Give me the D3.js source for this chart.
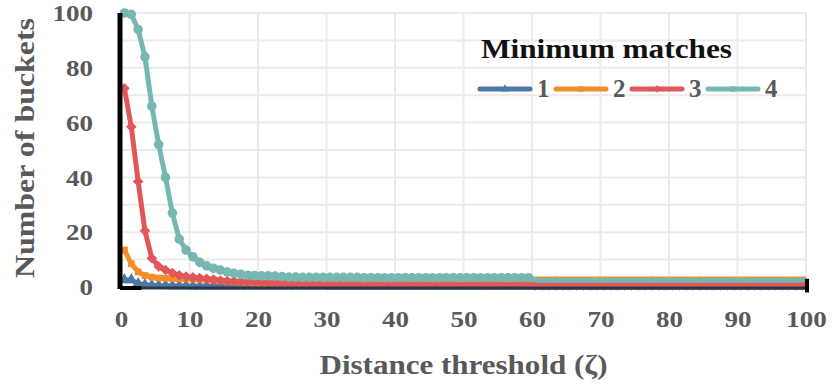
<!DOCTYPE html>
<meta charset="utf-8">
<style>
  body { margin: 0; background: #fff; }
  text { font-family: "Liberation Serif", "Times New Roman", serif; font-weight: bold; }
</style>
<svg width="832" height="389"></svg>
<script src="https://cdn.jsdelivr.net/npm/d3@7/dist/d3.min.js"></script>
<script>

// distance thresholds that carry a value (category axis, 1..100)
var thresholds = d3.range(1, 101);
var xTicks = [0, 10, 20, 30, 40, 50, 60, 70, 80, 90, 100];
var yTicks = [0, 20, 40, 60, 80, 100];
var gridX = [10, 20, 30, 40, 50, 60, 70, 80, 90, 100];
var gridY = [10, 20, 30, 40, 50, 60, 70, 80, 90, 100];
var seriesNames = ["1", "2", "3", "4"];

// number of buckets, minimum matches = 1
var match1 = [2.6, 2.6, 1.2, 0.8, 0.6, 0.5, 0.5, 0.4, 0.4, 0.4,
  0.3, 0.3, 0.3, 0.3, 0.3, 0.3, 0.3, 0.3, 0.3, 0.3,
  0.3, 0.3, 0.3, 0.3, 0.3, 0.3, 0.3, 0.3, 0.3, 0.3,
  0.2, 0.2, 0.2, 0.2, 0.2, 0.2, 0.2, 0.2, 0.2, 0.2,
  0.2, 0.2, 0.2, 0.2, 0.2, 0.2, 0.2, 0.2, 0.2, 0.2,
  0.2, 0.2, 0.2, 0.2, 0.2, 0.2, 0.2, 0.2, 0.2, 0.2,
  0.2, 0.2, 0.2, 0.2, 0.2, 0.2, 0.2, 0.2, 0.2, 0.2,
  0.2, 0.2, 0.2, 0.2, 0.2, 0.2, 0.2, 0.2, 0.2, 0.2,
  0.2, 0.2, 0.2, 0.2, 0.2, 0.2, 0.2, 0.2, 0.2, 0.2,
  0.2, 0.2, 0.2, 0.2, 0.2, 0.2, 0.2, 0.2, 0.2, 0.2];

// minimum matches = 2
var match2 = [13.5, 8.5, 5.5, 4.2, 3.6, 3.3, 3.2, 3.1, 3.0, 3.0,
  2.9, 2.8, 2.7, 2.5, 2.3, 2.1, 1.9, 1.8, 1.6, 1.5,
  1.4, 1.4, 1.3, 1.3, 1.3, 1.2, 1.2, 1.2, 1.2, 1.2,
  1.1, 1.1, 1.1, 1.1, 1.1, 1.1, 1.1, 1.1, 1.1, 1.1,
  1.1, 1.1, 1.1, 1.1, 1.1, 1.1, 1.1, 1.1, 1.1, 1.1,
  1.1, 1.1, 1.1, 1.1, 1.1, 1.1, 1.1, 1.1, 1.1, 1.1,
  2.6, 2.6, 2.6, 2.6, 2.6, 2.6, 2.6, 2.6, 2.6, 2.6,
  2.6, 2.6, 2.6, 2.6, 2.6, 2.6, 2.6, 2.6, 2.6, 2.6,
  2.6, 2.6, 2.6, 2.6, 2.6, 2.6, 2.6, 2.6, 2.6, 2.6,
  2.6, 2.6, 2.6, 2.6, 2.6, 2.6, 2.6, 2.6, 2.6, 2.6];

// minimum matches = 3
var match3 = [72.5, 58.5, 38.5, 20.5, 10.5, 7.5, 6.2, 5.1, 4.3, 3.8,
  3.5, 3.3, 3.0, 2.7, 2.4, 2.2, 2.0, 1.9, 1.8, 1.7,
  1.6, 1.5, 1.5, 1.4, 1.4, 1.3, 1.3, 1.2, 1.2, 1.1,
  1.1, 1.1, 1.0, 1.0, 1.0, 1.0, 0.9, 0.9, 0.9, 0.9,
  0.9, 0.8, 0.8, 0.8, 0.8, 0.8, 0.8, 0.8, 0.7, 0.7,
  0.7, 0.7, 0.7, 0.7, 0.7, 0.7, 0.7, 0.7, 0.7, 0.7,
  0.6, 0.6, 0.6, 0.6, 0.6, 0.6, 0.6, 0.6, 0.6, 0.6,
  0.6, 0.6, 0.6, 0.6, 0.6, 0.6, 0.6, 0.6, 0.6, 0.6,
  0.6, 0.6, 0.6, 0.6, 0.6, 0.6, 0.6, 0.6, 0.6, 0.6,
  0.6, 0.6, 0.6, 0.6, 0.6, 0.6, 0.6, 0.6, 0.6, 0.6];

// minimum matches = 4
var match4 = [100, 99.5, 94, 84, 66, 52, 40, 27, 17.5, 13.5,
  11, 9, 7.7, 6.8, 6.2, 5.5, 5.0, 4.6, 4.3, 4.2,
  4.1, 4.1, 4.0, 3.8, 3.6, 3.6, 3.5, 3.5, 3.5, 3.5,
  3.5, 3.5, 3.5, 3.5, 3.5, 3.4, 3.4, 3.4, 3.4, 3.4,
  3.4, 3.4, 3.4, 3.4, 3.4, 3.4, 3.4, 3.4, 3.4, 3.4,
  3.4, 3.4, 3.4, 3.4, 3.4, 3.4, 3.4, 3.4, 3.4, 3.4,
  2.5, 2.5, 2.5, 2.5, 2.5, 2.5, 2.5, 2.5, 2.5, 2.5,
  2.5, 2.5, 2.5, 2.5, 2.5, 2.5, 2.5, 2.5, 2.5, 2.5,
  2.5, 2.5, 2.5, 2.5, 2.5, 2.5, 2.5, 2.5, 2.5, 2.5,
  2.5, 2.5, 2.5, 2.5, 2.5, 2.5, 2.5, 2.5, 2.5, 2.5];

var svg = d3.select("svg");

var x = d3.scaleLinear().domain([0, 100]).range([121, 806]);
var xBand = d3.scaleBand().domain(thresholds).range([121, 806]);
var y = d3.scaleLinear().domain([0, 100]).range([287, 13]);

var color = d3.scaleOrdinal().domain(seriesNames)
    .range(["#4e79a7", "#f28e2b", "#e15759", "#76b7b2"]);
// series 3 uses a square turned 45 degrees as its diamond
var shape = d3.scaleOrdinal().domain(seriesNames)
    .range([d3.symbolTriangle, d3.symbolSquare, d3.symbolSquare, d3.symbolCircle]);
var turn = {"1": 0, "2": 0, "3": 45, "4": 0};
var markerSize = {"1": 60, "2": 46, "3": 56, "4": 72};
var markerUpTo = {"1": 100, "2": 100, "3": 100, "4": 60};  // teal markers stop at 60

var series = [match1, match2, match3, match4].map(function(vals, i) {
  return {name: seriesNames[i], points: thresholds.map(function(t, j) { return [t, vals[j]]; })};
});

var cx = function(t) { return xBand(t) + xBand.bandwidth() / 2; };

// grid
svg.append("g").selectAll("line").data(gridY).join("line")
    .attr("x1", x(0)).attr("x2", x(100))
    .attr("y1", d => y(d)).attr("y2", d => y(d))
    .attr("stroke", "#ebebeb").attr("stroke-width", 2);
svg.append("g").selectAll("line").data(gridX).join("line")
    .attr("x1", d => x(d)).attr("x2", d => x(d))
    .attr("y1", y(0)).attr("y2", y(100))
    .attr("stroke", "#ebebeb").attr("stroke-width", 2);

// axes (labels only, lines drawn by hand below)
var xAxis = svg.append("g").attr("transform", "translate(0," + (y(0) + 8) + ")")
    .call(d3.axisBottom(x).tickValues(xTicks).tickSize(0).tickPadding(15));
var yAxis = svg.append("g").attr("transform", "translate(" + (x(0) - 8) + ",0)")
    .call(d3.axisLeft(y).tickValues(yTicks).tickSize(0).tickPadding(20));
[xAxis, yAxis].forEach(function(a) {
  a.select(".domain").remove();
  a.selectAll("text").attr("fill", "#595959").style("font-size", "24px")
      .style("font-family", "'Liberation Serif', serif").style("font-weight", "bold")
      .attr("textLength", d => String(d).length * 13.5)
      .attr("lengthAdjust", "spacingAndGlyphs");
});

// lines
var line = d3.line().x(d => cx(d[0])).y(d => y(d[1]));
var g = svg.append("g").selectAll("g").data(series).join("g");
g.append("path")
    .attr("d", d => line(d.points))
    .attr("fill", "none")
    .attr("stroke", d => color(d.name))
    .attr("stroke-width", 5)
    .attr("stroke-linejoin", "round")
    .attr("stroke-linecap", "round");
g.each(function(s) {
  d3.select(this).selectAll("path.m")
      .data(s.points.filter(p => p[0] <= markerUpTo[s.name]))
      .join("path").attr("class", "m")
      .attr("transform", p => "translate(" + cx(p[0]) + "," + y(p[1]) + ") rotate(" + turn[s.name] + ")")
      .attr("d", d3.symbol().type(shape(s.name)).size(markerSize[s.name]))
      .attr("fill", color(s.name));
});

// axis lines
svg.append("line").attr("x1", x(0)).attr("x2", x(100)).attr("y1", y(0) + 1).attr("y2", y(0) + 1)
    .attr("stroke", "#2c3848").attr("stroke-width", 3);
svg.append("line").attr("x1", x(0) - 1).attr("x2", x(0) - 1).attr("y1", y(100)).attr("y2", y(0) + 2)
    .attr("stroke", "#000").attr("stroke-width", 5);
svg.append("line").attr("x1", x(0) - 1).attr("x2", x(3)).attr("y1", y(0) + 1).attr("y2", y(0) + 1)
    .attr("stroke", "#000").attr("stroke-width", 4);
svg.append("line").attr("x1", x(100) + 1).attr("x2", x(100) + 1).attr("y1", y(3)).attr("y2", y(-2))
    .attr("stroke", "#000").attr("stroke-width", 4);

// axis titles
svg.append("text")
    .attr("transform", "translate(34,148) rotate(-90)")
    .attr("text-anchor", "middle")
    .attr("fill", "#595959").style("font-size", "28px")
    .attr("textLength", 260).attr("lengthAdjust", "spacingAndGlyphs")
    .text("Number of buckets");
svg.append("text")
    .attr("x", x(50)).attr("y", 374)
    .attr("text-anchor", "middle")
    .attr("fill", "#595959").style("font-size", "28px")
    .attr("textLength", 288).attr("lengthAdjust", "spacingAndGlyphs")
    .text("Distance threshold (ζ)");

// legend
var legend = svg.append("g").attr("transform", "translate(480,0)");
legend.append("text").attr("x", 1).attr("y", 58)
    .attr("fill", "#111").style("font-size", "28px")
    .attr("textLength", 251).attr("lengthAdjust", "spacingAndGlyphs")
    .text("Minimum matches");
var item = legend.selectAll("g.item").data(seriesNames).join("g")
    .attr("class", "item")
    .attr("transform", (d, i) => "translate(" + (i * 76) + ",89)");
item.append("line").attr("x1", 0).attr("x2", 50)
    .attr("stroke", d => color(d)).attr("stroke-width", 5).attr("stroke-linecap", "round");
item.append("path").attr("transform", d => "translate(25,0) rotate(" + turn[d] + ")")
    .attr("d", d => d3.symbol().type(shape(d)).size(30)())
    .attr("fill", d => color(d));
item.append("text").attr("x", 57).attr("y", 8)
    .attr("fill", "#595959").style("font-size", "25px")
    .text(d => d);

</script>
